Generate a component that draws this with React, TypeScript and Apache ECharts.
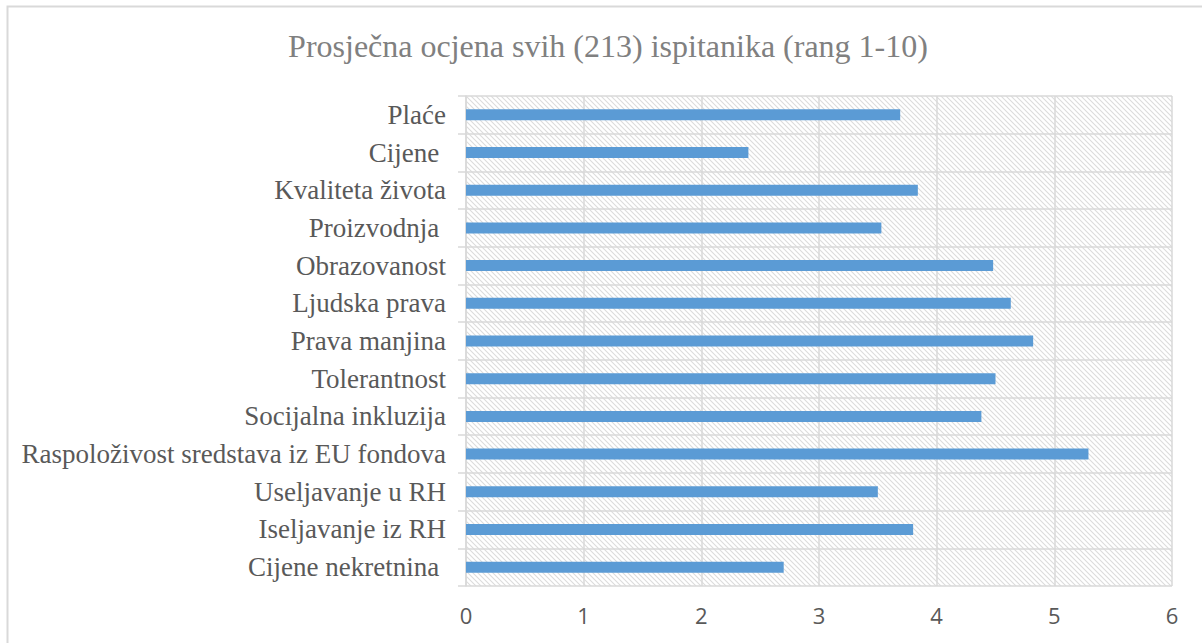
import React, { useEffect, useRef } from "react";
import * as echarts from "echarts";

const titleText = "Prosječna ocjena svih (213) ispitanika (rang 1-10)";
const categories = [
  "Plaće",
  "Cijene ",
  "Kvaliteta života",
  "Proizvodnja ",
  "Obrazovanost",
  "Ljudska prava",
  "Prava manjina",
  "Tolerantnost",
  "Socijalna inkluzija",
  "Raspoloživost sredstava iz EU fondova",
  "Useljavanje u RH",
  "Iseljavanje iz RH",
  "Cijene nekretnina ",
];
const values = [3.69, 2.4, 3.84, 3.53, 4.48, 4.63, 4.82, 4.5, 4.38, 5.29, 3.5, 3.8, 2.7];
const axisMin = 0;
const axisMax = 6;
const axisInterval = 1;

const hatchSvg =
  "<svg xmlns='http://www.w3.org/2000/svg' width='5' height='5'>" +
  "<path d='M-1,-1L6,6M-1,4L1,6M4,-1L6,1' stroke='#dcdcdc' stroke-width='1.1'/></svg>";
const hatchUrl = "data:image/svg+xml;charset=utf-8," + encodeURIComponent(hatchSvg);

export default function App() {
  const ref = useRef<HTMLDivElement>(null);
  useEffect(() => {
    if (!ref.current) return;
    const chart = echarts.init(ref.current, undefined, { renderer: "svg" });
    const gridColor = "#d9d9d9";
    chart.setOption({
      animation: false,
      backgroundColor: "#ffffff",
      title: {
        text: titleText,
        left: 603,
        top: 25,
        textAlign: "center",
        textStyle: {
          fontFamily: "Liberation Serif",
          fontSize: 32,
          fontWeight: "normal",
          color: "#808080",
        },
      },
      graphic: [
        {
          type: "rect",
          shape: { x: 7.5, y: 6.5, width: 1220, height: 660 },
          style: { fill: "none", stroke: gridColor, lineWidth: 2 },
          silent: true,
          z: 100,
        },
      ],
      grid: {
        left: 466,
        right: 30,
        top: 96,
        bottom: 57,
        show: true,
        borderWidth: 0,
        backgroundColor: {
          image: hatchUrl,
          repeat: "repeat",
          imageWidth: 5,
          imageHeight: 5,
        },
      },
      xAxis: {
        type: "value",
        min: axisMin,
        max: axisMax,
        interval: axisInterval,
        axisLine: { show: false },
        axisTick: { show: false },
        splitLine: { show: true, lineStyle: { color: gridColor, width: 1.5 } },
        axisLabel: {
          margin: 18,
          fontFamily: "Open Sans",
          fontSize: 22,
          color: "#595959",
        },
      },
      yAxis: {
        type: "category",
        data: categories,
        inverse: true,
        axisLine: { show: true, lineStyle: { color: gridColor, width: 1.5 } },
        axisTick: { show: true, length: 8, lineStyle: { color: gridColor, width: 1.5 } },
        splitLine: { show: true, lineStyle: { color: gridColor, width: 1.5 } },
        axisLabel: {
          margin: 20,
          fontFamily: "Liberation Serif",
          fontSize: 27,
          color: "#595959",
        },
      },
      series: [
        {
          type: "bar",
          data: values,
          barWidth: 11,
          itemStyle: { color: "#5b9bd5" },
        },
      ],
    });
    return () => chart.dispose();
  }, []);
  return (
    <div
      ref={ref}
      style={{ position: "fixed", left: 0, top: 0, width: 1202, height: 643 }}
    />
  );
}
